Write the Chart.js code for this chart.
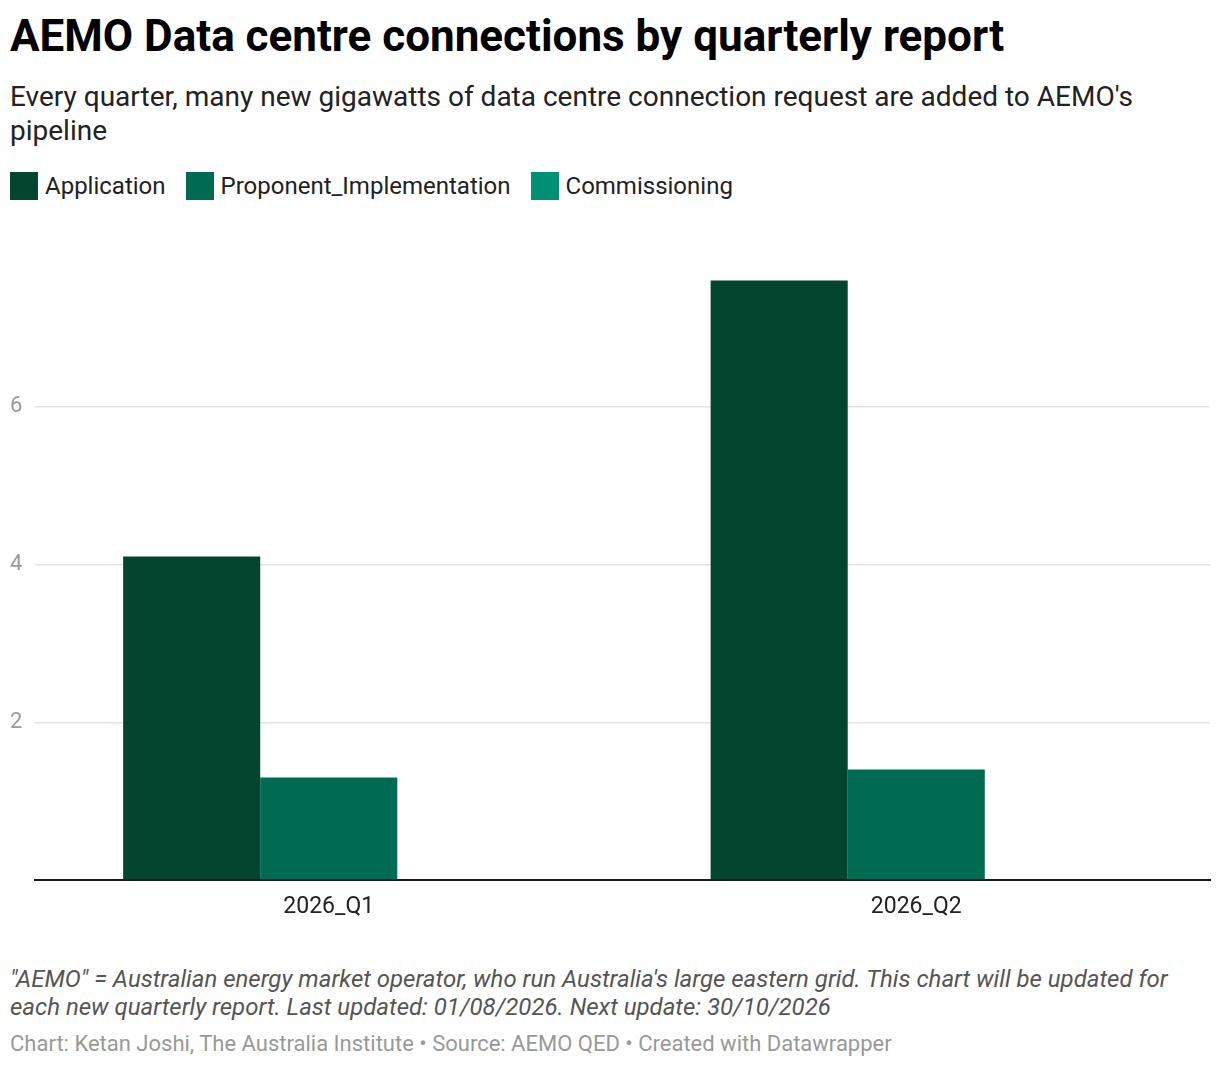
<!DOCTYPE html>
<html>
<head>
<meta charset="utf-8">
<script src="https://cdn.jsdelivr.net/npm/chart.js@4"></script>
<style>
  body { margin: 0; background: #fff; font-family: Roboto, sans-serif; width: 1220px; height: 1068px; position: relative; overflow: hidden; }
  h1 { position: absolute; left: 10px; top: 10px; margin: 0; font-size: 44px; font-weight: 700; color: #000; line-height: 52px; }
  .sub { position: absolute; left: 10px; top: 80px; width: 1200px; margin: 0; font-size: 28px; line-height: 34px; color: #222; }
  #legend { position: absolute; left: 10px; top: 172px; display: flex; font-size: 24px; line-height: 28px; color: #222; }
  #legend span.item { display: flex; align-items: center; margin-right: 20px; }
  #legend span.box { width: 28px; height: 28px; margin-right: 7px; display: inline-block; }
  #wrap { position: absolute; left: 0; top: 230px; width: 1220px; height: 710px; }
  .notes { position: absolute; left: 10px; top: 965px; width: 1200px; font-size: 24px; line-height: 28px; font-style: italic; color: #555; }
  .byline { position: absolute; left: 10px; top: 1031px; font-size: 22px; color: #999; }
</style>
</head>
<body>
<h1>AEMO Data centre connections by quarterly report</h1>
<p class="sub">Every quarter, many new gigawatts of data centre connection request are added to AEMO's pipeline</p>
<div id="legend"></div>
<div id="wrap"><canvas id="C"></canvas></div>
<div class="notes">"AEMO" = Australian energy market operator, who run Australia's large eastern grid. This chart will be updated for each new quarterly report. Last updated: 01/08/2026. Next update: 30/10/2026</div>
<div class="byline">Chart: Ketan Joshi, The Australia Institute • Source: AEMO QED • Created with Datawrapper</div>
<script>
const quarters = ["2026_Q1", "2026_Q2"];
const application = [4.1, 7.6];
const proponentImplementation = [1.3, 1.4];
const commissioning = [0, 0];
const seriesNames = ["Application", "Proponent_Implementation", "Commissioning"];
const seriesColors = ["#03452f", "#016a53", "#009074"];
const yTicks = [2, 4, 6];

let legendEl = document.getElementById("legend");
seriesNames.forEach((name, i) => {
  legendEl.innerHTML += '<span class="item"><span class="box" style="background:' + seriesColors[i] + '"></span>' + name + '</span>';
});

let ctx = document.getElementById("C").getContext("2d");
let chart = new Chart(ctx, {
  type: "bar",
  data: {
    labels: quarters,
    datasets: [application, proponentImplementation, commissioning].map((d, i) => ({
      label: seriesNames[i],
      data: d,
      backgroundColor: seriesColors[i],
      borderWidth: 0,
      categoryPercentage: 0.7,
      barPercentage: 1.0,
    })),
  },
  options: {
    responsive: true,
    maintainAspectRatio: false,
    animation: false,
    layout: { padding: { left: 10, right: 10, top: 19, bottom: 0 } },
    plugins: {
      legend: { display: false },
      tooltip: { enabled: false },
    },
    scales: {
      x: {
        grid: { display: false, drawTicks: false },
        border: { display: true, color: "#1a1a1a", width: 2 },
        ticks: { color: "#222", font: { family: "Roboto", size: 23 }, padding: 13 },
        afterFit: (s) => { s.height = 60; },
      },
      y: {
        min: 0,
        max: 8,
        afterBuildTicks: (s) => { s.ticks = [0].concat(yTicks, [8]).map(v => ({ value: v })); },
        grid: {
          drawTicks: false,
          color: (c) => (yTicks.includes(c.tick.value) ? "#e3e3e3" : "rgba(0,0,0,0)"),
          lineWidth: 1.5,
        },
        border: { display: false },
        ticks: {
          color: "#9a9a9a",
          font: { family: "Roboto", size: 22 },
          crossAlign: "far",
          padding: 0,
          callback: (v) => (yTicks.includes(v) ? v : ""),
        },
        afterFit: (s) => { s.width = 25; },
      },
    },
  },
});
</script>
</body>
</html>
